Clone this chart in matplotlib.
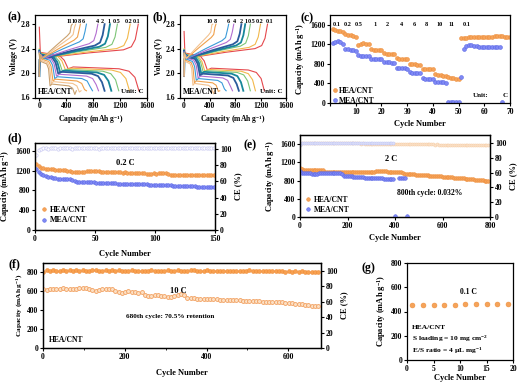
import numpy as np
import matplotlib
matplotlib.use('Agg')
import matplotlib.pyplot as plt

plt.rcParams['font.family'] = ['Liberation Serif', 'DejaVu Serif']
plt.rcParams['font.weight'] = 'bold'
plt.rcParams['axes.labelweight'] = 'bold'
plt.rcParams['mathtext.fontset'] = 'custom'
plt.rcParams['mathtext.rm'] = 'Liberation Serif:bold'
plt.rcParams['mathtext.it'] = 'Liberation Serif:bold'
plt.rcParams['mathtext.bf'] = 'Liberation Serif:bold'
plt.rcParams['axes.linewidth'] = 0.9
for k in ['xtick', 'ytick']:
    plt.rcParams[k + '.major.width'] = 0.8
    plt.rcParams[k + '.major.size'] = 2.0
    plt.rcParams[k + '.major.pad'] = 1.5
    plt.rcParams[k + '.labelsize'] = 5.5

# ===== (a)/(b) 充放电曲线 =====
rates_a = ['0.1', '0.2', '0.5', '1', '2', '4', '6', '8', '10', '11']
colors_a = ['#E5484D', '#F2B84B', '#7CC576', '#17879A', '#2B5C9C',
            '#B36ED0', '#3A9AD9', '#F0A04B', '#F3C28F', '#C9A06E']
lw_a = [0.8, 0.8, 0.8, 1.3, 1.3, 0.8, 0.8, 0.8, 0.8, 0.8]
# HEA/CNT
hea_v0 = [2.75, 2.40, 2.38, 2.37, 2.36, 2.35, 2.34, 2.33, 2.32, 2.31]
hea_qd = [1480, 1340, 1180, 1070, 970, 880, 790, 700, 620, 550]
hea_qc = [1470, 1350, 1160, 1050, 970, 870, 700, 610, 540, 490]
hea_vup = [2.33, 2.32, 2.31, 2.30, 2.29, 2.27, 2.25, 2.23, 2.21, 2.19]
hea_vlow = [2.10, 2.08, 2.06, 2.04, 2.02, 1.98, 1.94, 1.90, 1.86, 1.82]
hea_vch = [2.40, 2.42, 2.44, 2.45, 2.47, 2.50, 2.53, 2.56, 2.60, 2.63]
hea_lab_x = [1452, 1334, 1156, 1033, 939, 865, 652, 588, 519, 450]
# MEA/CNT (没有 11 C)
mea_v0 = [2.68, 2.40, 2.38, 2.37, 2.36, 2.35, 2.34, 2.33, 2.32]
mea_qd = [1260, 1120, 1040, 930, 860, 760, 660, 560, 480]
mea_qc = [1310, 1200, 1040, 960, 900, 780, 700, 500, 450]
mea_vup = [2.32, 2.31, 2.30, 2.29, 2.27, 2.25, 2.23, 2.21, 2.19]
mea_vlow = [2.08, 2.06, 2.04, 2.02, 1.99, 1.95, 1.91, 1.87, 1.83]
mea_vch = [2.42, 2.44, 2.46, 2.47, 2.49, 2.52, 2.55, 2.60, 2.64]
mea_lab_x = [1335, 1185, 1065, 975, 900, 790, 690, 490, 405]

# 曲线形状锚点（容量比例）
dis_frac = [0, 0.01, 0.04, 0.20, 0.25, 0.29, 0.34, 0.80, 0.90, 0.96, 1.0]
chg_frac = [0, 0.005, 0.03, 0.07, 0.12, 0.50, 0.85, 0.93, 0.97, 1.0]

# ===== (c) 倍率性能 =====
rate_c_labels = ['0.1', '0.2', '0.5', '1', '2', '4', '6', '8', '10', '11', '0.1']
rate_c_x = [2.6, 7, 11, 17.5, 22.4, 27.9, 32.8, 37.3, 42.8, 47.3, 53.2]
hea_c = [1520, 1490, 1475, 1465, 1460,
         1420, 1400, 1385, 1370, 1355,
         1190, 1215, 1218, 1215, 1212,
         1095, 1090, 1085, 1082, 1080,
         1015, 1010, 1008, 1005, 1002,
         915, 910, 905, 902, 900,
         795, 790, 788, 785, 780,
         705, 700, 695, 690, 688,
         590, 575, 565, 558, 550,
         525, 512, 505, 498, 492,
         1330, 1335, 1338, 1340, 1340, 1340, 1342, 1342, 1342, 1342,
         1342, 1345, 1355, 1365, 1368, 1365, 1362, 1360, 1360, 1360]
mea_c = [1230, 1255, 1265, 1255, 1210,
         1110, 1095, 1085, 1075, 1065,
         975, 965, 962, 958, 955,
         905, 900, 895, 892, 890,
         840, 835, 830, 828, 825,
         725, 718, 712, 708, 705,
         625, 618, 612, 608, 605,
         505, 500, 496, 493, 490,
         430, 425, 422, 420, 418,
         25, 28, 30, 30, 28,
         530, 1110, 1160, 1180, 1185, 1175, 1160, 1155, 1152, 1150,
         1150, 1150, 1150, 1150, 1150, 1150, 20]

# ===== (d) 0.2 C 循环 (每2圈) =====
cyc_d = np.arange(1, 150, 2)
hea_d = [1340, 1290, 1260, 1245, 1240, 1235, 1230, 1225, 1220, 1215,
         1210, 1210, 1205, 1200, 1195, 1180, 1175, 1175, 1172, 1172,
         1175, 1195, 1200, 1198, 1195, 1190, 1185, 1180, 1170, 1168,
         1170, 1165, 1168, 1165, 1162, 1160, 1158, 1160, 1155, 1152,
         1150, 1148, 1150, 1145, 1142, 1140, 1138, 1135, 1138, 1140,
         1135, 1145, 1150, 1148, 1145, 1120, 1112, 1110, 1112, 1110,
         1108, 1110, 1112, 1110, 1108, 1110, 1112, 1110, 1108, 1110,
         1108, 1106, 1108, 1105, 1105]
mea_d = [1230, 1170, 1130, 1110, 1090, 1075, 1060, 1050, 1042, 1035,
         1030, 1028, 1025, 1022, 1020, 1018, 985, 975, 972, 970,
         968, 966, 965, 963, 960, 958, 956, 955, 953, 952,
         950, 948, 946, 940, 935, 932, 930, 930, 928, 927,
         926, 925, 924, 923, 922, 920, 918, 916, 914, 912,
         910, 908, 906, 904, 902, 900, 898, 896, 894, 892,
         890, 888, 886, 884, 882, 880, 878, 877, 876, 875,
         874, 872, 870, 869, 868]
ce_d = [93.0, 98.5, 100.2, 100.8, 101.0, 100.6, 101.2, 100.9, 101.0, 100.7,
        101.1, 100.8, 101.0, 100.9, 101.2, 100.7, 101.0, 100.8, 101.1, 100.9,
        100.8, 101.0, 100.9, 101.1, 100.8, 101.0, 100.7, 100.9, 101.0, 100.8,
        101.0, 100.9, 100.8, 101.1, 100.9, 101.0, 100.8, 100.9, 101.0, 100.8,
        100.9, 101.0, 100.8, 100.9, 101.1, 100.8, 100.9, 101.0, 100.9, 100.8,
        101.0, 100.9, 100.8, 101.0, 100.9, 100.8, 101.0, 100.9, 100.8, 100.9,
        101.0, 100.8, 100.9, 100.8, 101.0, 100.9, 100.8, 100.9, 101.0, 100.8,
        100.9, 100.8, 101.0, 100.9, 100.8]

# ===== (e) 2 C 长循环 (每8圈) =====
cyc_e = np.arange(1, 800, 8)
hea_e = [1070, 1045, 1040, 1038, 1036, 1035, 1035, 1034, 1034, 1035,
         1036, 1035, 1034, 995, 992, 990, 990, 988, 990, 992,
         990, 990, 985, 984, 985, 986, 985, 984, 985, 986,
         987, 988, 988, 990, 990, 992, 994, 995, 996, 998,
         1000, 1002, 1003, 1002, 1000, 1000, 998, 996, 995, 993,
         992, 990, 988, 985, 960, 952, 948, 944, 940, 937,
         934, 931, 928, 925, 922, 919, 916, 913, 910, 907,
         904, 901, 898, 895, 892, 889, 886, 882, 878, 874,
         870, 866, 862, 858, 854, 850, 846, 842, 838, 834,
         830, 826, 822, 818, 814, 810, 806, 800, 795, 785]
cyc_e_mea = np.arange(1, 400, 8)
mea_e = [1000, 975, 965, 960, 958, 955, 953, 952, 950, 952,
         955, 962, 968, 970, 972, 970, 968, 966, 965, 963,
         962, 960, 935, 905, 898, 895, 892, 890, 888, 886,
         880, 876, 872, 868, 865, 862, 860, 858, 856, 854,
         852, 850, 848, 846, 844, 842, 840, 838, 835, 830]
cyc_e_mea_tail = [401, 417, 425, 433, 441, 451]
mea_e_tail = [15, 850, 858, 860, 862, 15]
ce_e_hea = [97.5, 99.8, 100.2, 100.1, 100.3, 100.0, 100.2, 100.1, 100.0, 100.2,
            100.1, 100.0, 100.2, 99.9, 100.0, 100.1, 99.9, 100.0, 99.8, 99.9,
            99.9, 99.8, 99.8, 99.7, 99.8, 99.7, 99.6, 99.7, 99.6, 99.5,
            99.6, 99.5, 99.4, 99.5, 99.4, 99.3, 99.4, 99.3, 99.2, 99.3,
            99.2, 99.1, 99.2, 99.1, 99.0, 99.1, 99.0, 98.9, 99.0, 98.9,
            98.8, 98.9, 98.8, 98.7, 98.8, 98.7, 98.6, 98.7, 98.6, 98.5,
            98.6, 98.5, 98.4, 98.5, 98.4, 98.3, 98.4, 98.3, 98.2, 98.3,
            98.2, 98.1, 98.2, 98.1, 98.0, 98.1, 98.0, 97.9, 98.0, 97.9,
            97.8, 97.9, 97.8, 97.7, 97.8, 97.7, 97.6, 97.7, 97.6, 97.5,
            97.6, 97.5, 97.4, 97.5, 97.4, 97.3, 97.4, 97.3, 97.2, 97.2]
ce_e_mea = [98.0, 100.3, 100.5, 100.4, 100.6, 100.5, 100.4, 100.6, 100.5, 100.7,
            100.5, 100.4, 100.6, 100.5, 100.3, 100.6, 100.5, 100.4, 100.7, 100.5,
            100.4, 100.6, 100.5, 100.3, 100.5, 100.8, 100.4, 100.6, 100.5, 100.4,
            100.7, 100.5, 100.3, 100.6, 100.4, 100.5, 100.8, 100.4, 100.6, 100.5,
            100.3, 100.6, 100.5, 100.7, 100.4, 100.6, 100.5, 100.3, 100.6, 100.5]

# ===== (f) 10 C 长循环 (每8圈) =====
cyc_f = np.arange(1, 681, 8)
hea_f = [620, 618, 622, 625, 628, 630, 632, 630, 628, 626,
         630, 635, 638, 632, 620, 610, 605, 612, 620, 626,
         628, 620, 605, 590, 580, 592, 600, 598, 590, 585,
         588, 560, 548, 555, 562, 558, 552, 548, 545, 543,
         548, 565, 575, 560, 530, 528, 526, 524, 522, 520,
         518, 517, 516, 515, 513, 512, 510, 508, 507, 505,
         503, 501, 499, 497, 495, 494, 493, 492, 491, 490,
         488, 486, 484, 482, 478, 475, 472, 468, 465, 462,
         458, 454, 450, 445, 440]
ce_f = [99.0, 100.5, 100.0, 101.0, 100.2, 99.5, 100.8, 100.0, 101.2, 99.8,
        100.4, 99.6, 100.9, 100.1, 99.4, 100.7, 101.3, 100.0, 99.7, 100.5,
        99.2, 100.3, 99.8, 100.6, 99.5, 100.1, 99.9, 100.4, 99.3, 100.0,
        99.6, 100.2, 99.4, 100.5, 99.8, 99.3, 100.1, 99.7, 100.3, 99.5,
        99.9, 100.6, 99.4, 100.2, 99.8, 100.9, 100.3, 99.6, 100.0, 99.5,
        100.4, 99.7, 100.1, 99.3, 100.0, 99.6, 99.9, 100.2, 99.4, 99.8,
        99.5, 100.1, 99.7, 100.3, 99.2, 99.9, 99.6, 100.0, 99.4, 99.8,
        99.3, 99.7, 99.1, 99.6, 99.0, 99.4, 98.9, 99.2, 98.8, 99.1,
        98.7, 98.9, 98.6, 98.8, 98.5]

# ===== (g) 高载量 =====
cyc_g = [1, 3, 5, 7, 9, 11, 13, 15, 17, 19]
hea_g = [452, 452, 454, 455, 457, 458, 458, 459, 460, 460]

ORANGE = '#F5A35A'
ORANGE_E = '#EE8E3A'
BLUE = '#7F89F4'
BLUE_E = '#5A66E6'
CAP = 'Capacity (mAh g$^{-1}$)'

W, H = 522, 385


def rect(l, t, r, b):
    return [l / W, 1 - b / H, (r - l) / W, (b - t) / H]


def ftext(x, y, s, **kw):
    fig.text(x / W, 1 - y / H, s, **kw)


def gcd(v0, qd, qc, vup, vlow, vch):
    v_dis = [v0, vup + 0.01, vup, vup - 0.04, vup - 0.12, vlow - 0.03,
             vlow, vlow - 0.03, vlow - 0.07, vlow - 0.17, 1.71]
    v_chg = [1.95, 2.22, 2.30, 2.24, 2.26, (2.26 + vch) / 2, vch - 0.02,
             vch + 0.03, vch + 0.15, 2.80]
    xd = np.array(dis_frac) * qd
    xc = np.array(chg_frac) * qc
    return xd, v_dis, xc, v_chg


fig = plt.figure(figsize=(5.22, 3.85), dpi=100)

# ---- (a)(b)
panels_ab = [
    (rect(35, 15, 147, 97.5), hea_v0, hea_qd, hea_qc, hea_vup, hea_vlow, hea_vch, hea_lab_x, 'HEA/CNT', 10),
    (rect(180, 15, 286, 97.5), mea_v0, mea_qd, mea_qc, mea_vup, mea_vlow, mea_vch, mea_lab_x, 'MEA/CNT', 9),
]
for pos, v0, qd, qc, vup, vlow, vch, labx, name, n in panels_ab:
    ax = fig.add_axes(pos)
    for i in range(n):
        xd, yd, xc, yc = gcd(v0[i], qd[i], qc[i], vup[i], vlow[i], vch[i])
        ax.plot(xd, yd, color=colors_a[i], lw=lw_a[i])
        ax.plot(xc, yc, color=colors_a[i], lw=lw_a[i])
        ax.text(labx[i], 2.84, rates_a[i], fontsize=4.4, ha='center', va='center')
    ax.set_xlim(-64, 1600)
    ax.set_ylim(1.6, 2.95)
    ax.set_xticks([0, 400, 800, 1200, 1600])
    ax.set_yticks([1.6, 2.0, 2.4, 2.8])
    ax.set_xlabel('Capacity (mAh g$^{-1}$)', fontsize=5.5, labelpad=2)
    ax.set_ylabel('Voltage (V)', fontsize=5.5, labelpad=2)
    ax.text(0.03, 0.07, name, transform=ax.transAxes, fontsize=5.5, va='center')
    ax.text(0.97, 0.07, 'Unit: C', transform=ax.transAxes, fontsize=5, va='center', ha='right')

# ---- (c)
ax = fig.add_axes(rect(330, 15, 510, 103))
ax.plot(np.arange(1, len(hea_c) + 1), hea_c, 'o', ms=2.8, mfc=ORANGE, mec=ORANGE_E, mew=0.4, label='HEA/CNT')
ax.plot(np.arange(1, len(mea_c) + 1), mea_c, 'o', ms=2.8, mfc=BLUE, mec=BLUE_E, mew=0.4, label='MEA/CNT')
for xx, s in zip(rate_c_x, rate_c_labels):
    ax.text(xx, 1600, s, fontsize=4.5, ha='center', va='center')
ax.text(58.5, 150, 'Unit:', fontsize=5, va='center', ha='center')
ax.text(68.3, 150, 'C', fontsize=5, va='center', ha='center')
ax.set_xlim(0, 70)
ax.set_ylim(0, 1800)
ax.set_xticks(range(0, 71, 10))
ax.set_xticklabels([''] + [str(v) for v in range(10, 71, 10)])
ax.set_yticks(range(0, 1601, 400))
ax.set_xlabel('Cycle Number', fontsize=6, labelpad=3)
ax.set_ylabel(CAP, fontsize=6, labelpad=2)
ax.legend(loc='lower left', bbox_to_anchor=(-0.02, -0.08), frameon=False, fontsize=5.5,
          handlelength=0.8, handletextpad=0.2, labelspacing=0.25, borderpad=0.2)

# ---- (d)
ax = fig.add_axes(rect(35, 143, 215, 230))
ax2 = ax.twinx()
ax2.plot(cyc_d, ce_d, 'o', ms=2.4, mfc='white', mec='#C9C9F2', mew=0.5)
ax.plot(cyc_d, hea_d, 'o', ms=2.6, mfc=ORANGE, mec=ORANGE_E, mew=0.4, label='HEA/CNT')
ax.plot(cyc_d, mea_d, 'o', ms=2.6, mfc=BLUE, mec=BLUE_E, mew=0.4, label='MEA/CNT')
ax.set_zorder(ax2.get_zorder() + 1)
ax.patch.set_visible(False)
ax.text(75, 1350, '0.2 C', fontsize=6, ha='center', va='center')
ax.set_xlim(0, 150)
ax.set_ylim(0, 1755)
ax2.set_ylim(0, 107.5)
ax.set_xticks([0, 50, 100, 150])
ax.set_yticks(range(0, 1601, 400))
ax2.set_yticks(range(0, 101, 20))
ax.set_xlabel('Cycle Number', fontsize=6, labelpad=5)
ax.set_ylabel(CAP, fontsize=6, labelpad=2)
ax2.set_ylabel('CE (%)', fontsize=6, labelpad=2)
ax.legend(loc='lower left', bbox_to_anchor=(0.0, 0.0), frameon=False, fontsize=5.8,
          handlelength=0.8, handletextpad=0.3, labelspacing=0.3, borderpad=0.2)

# ---- (e)
ax = fig.add_axes(rect(300, 135, 490, 217))
ax2 = ax.twinx()
ax2.plot(cyc_e, ce_e_hea, 'o', ms=2.2, mfc='#FBE3CC', mec='#F7CFA8', mew=0.4)
ax2.plot(cyc_e_mea, ce_e_mea, 'o', ms=2.2, mfc='#DDE0FA', mec='#C4C9F4', mew=0.4)
ax.plot(cyc_e, hea_e, 'o', ms=2.6, mfc=ORANGE, mec=ORANGE_E, mew=0.4, label='HEA/CNT')
ax.plot(np.concatenate([cyc_e_mea, cyc_e_mea_tail]), mea_e + mea_e_tail, 'o', ms=2.6,
        mfc=BLUE, mec=BLUE_E, mew=0.4, label='MEA/CNT')
ax.set_zorder(ax2.get_zorder() + 1)
ax.patch.set_visible(False)
ax.text(385, 1280, '2 C', fontsize=6, ha='center', va='center')
ax.text(545, 530, '800th cycle: 0.032%', fontsize=5.5, ha='center', va='center')
ax.set_xlim(0, 800)
ax.set_ylim(0, 1800)
ax2.set_ylim(0, 111)
ax.set_xticks(range(0, 801, 200))
ax.set_yticks(range(0, 1601, 400))
ax2.set_yticks(range(0, 101, 20))
ax.set_xlabel('Cycle Number', fontsize=6, labelpad=3)
ax.set_ylabel(CAP, fontsize=6, labelpad=2)
ax2.set_ylabel('CE (%)', fontsize=6, labelpad=2)
ax.legend(loc='lower left', bbox_to_anchor=(0.0, -0.03), frameon=False, fontsize=5.5,
          handlelength=0.8, handletextpad=0.3, labelspacing=0.3, borderpad=0.2)

# ---- (f)
ax = fig.add_axes(rect(43, 263, 321, 348))
ax2 = ax.twinx()
ax2.plot(cyc_f, ce_f, 'o', ms=2.8, mfc='#F7A050', mec='#F08C35', mew=0.4)
ax.plot(cyc_f, hea_f, 'o', ms=2.8, mfc='#FCE0C4', mec='#F2A060', mew=0.6)
ax.set_zorder(ax2.get_zorder() + 1)
ax.patch.set_visible(False)
ax.text(330, 605, '10 C', fontsize=6, ha='center', va='center')
ax.text(310, 330, '680th cycle: 70.5% retention', fontsize=5.2, ha='center', va='center')
ax.text(0.02, 0.09, 'HEA/CNT', transform=ax.transAxes, fontsize=5.5, va='center')
ax.set_xlim(0, 680)
ax.set_ylim(0, 900)
ax2.set_ylim(0, 110)
ax.set_xticks([0, 200, 400, 600])
ax.set_xticks([100, 300, 500], minor=True)
ax.tick_params(axis='x', which='minor', length=1.2, width=0.6)
ax.set_yticks(range(0, 801, 200))
ax2.set_yticks(range(0, 101, 20))
ax.set_xlabel('Cycle Number', fontsize=6, labelpad=6)
ax.set_ylabel(CAP, fontsize=5.3, labelpad=2)
ax2.set_ylabel('CE (%)', fontsize=6, labelpad=2)

# ---- (g)
ax = fig.add_axes(rect(407, 263, 513, 360))
ax.plot(cyc_g, hea_g, 'o', ms=3.5, mfc=ORANGE, mec=ORANGE_E, mew=0.4)
ax.text(11.5, 560, '0.1 C', fontsize=5.5, ha='center', va='center')
ax.text(0.9, 268, 'HEA/CNT', fontsize=5.4, va='center')
ax.text(0.9, 172, 'S loading = 10 mg cm$^{-2}$', fontsize=5.4, va='center')
ax.text(0.9, 76, 'E/S ratio = 4 μL mg$^{-1}$', fontsize=5.4, va='center')
ax.set_xlim(0, 20)
ax.set_ylim(0, 800)
ax.set_xticks([0, 5, 10, 15, 20])
ax.set_yticks(range(0, 801, 200))
ax.set_xlabel('Cycle Number', fontsize=6, labelpad=1)
ax.set_ylabel(CAP, fontsize=6, labelpad=2)

# ---- 面板编号
for x, y, s in [(14, 17, '(a)'), (160, 17, '(b)'), (307, 18, '(c)'), (15, 138, '(d)'),
                (250, 145, '(e)'), (14, 264, '(f)'), (368, 268, '(g)')]:
    ftext(x, y, s, fontsize=8.5, ha='center', va='center')

fig.savefig('out.png', dpi=100)
